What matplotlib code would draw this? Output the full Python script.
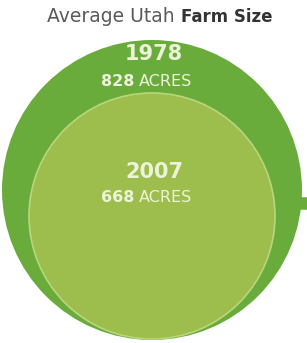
import matplotlib
matplotlib.use("Agg")
import matplotlib.pyplot as plt
from matplotlib.patches import Circle

title_light = "Average Utah "
title_bold = "Farm Size"
years = ["1978", "2007"]
acres = [828, 668]
unit = "ACRES"

W, H = 307, 343
fig = plt.figure(figsize=(W / 100, H / 100), dpi=100)
fig.patch.set_facecolor("white")
ax = fig.add_axes([0, 0, 1, 1])
ax.set_xlim(0, W)
ax.set_ylim(H, 0)
ax.set_aspect("equal")
ax.axis("off")

# circle geometry (pixels)
outer_c, outer_r = (152, 190), 150
inner_c, inner_r = (152, 216), 123

# small connector at right edge
ax.plot([296, 307], [203, 203], color="#6aac3c", lw=9, solid_capstyle="butt", zorder=1)
ax.add_patch(Circle(outer_c, outer_r, facecolor="#6aac3c", edgecolor="none", zorder=2))
ax.add_patch(Circle(inner_c, inner_r, facecolor="#9dbd4c", edgecolor="#b8d77c", lw=1.2, zorder=3))

txt = "#ecf3d8"
fam = "DejaVu Sans"
# Title
ax.text(181, 17, title_light, ha="right", va="center", fontsize=13.5, color="#5a5a5a",
        family=fam)
ax.text(181, 17, title_bold, ha="left", va="center", fontsize=12, color="#333333",
        family=fam, fontweight="bold")

ypos_year = [54, 172]
ypos_acre = [81, 198]
for yr, ac, yy, ya in zip(years, acres, ypos_year, ypos_acre):
    ax.text(154, yy, yr, ha="center", va="center", fontsize=15, color=txt,
            fontweight="bold", family=fam, zorder=5)
    ax.text(134, ya, str(ac), ha="right", va="center", fontsize=11.5, color=txt,
            fontweight="bold", family=fam, zorder=5)
    ax.text(139, ya, unit, ha="left", va="center", fontsize=11.5, color=txt,
            family=fam, zorder=5)

fig.savefig("out.png", dpi=100, facecolor="white")
